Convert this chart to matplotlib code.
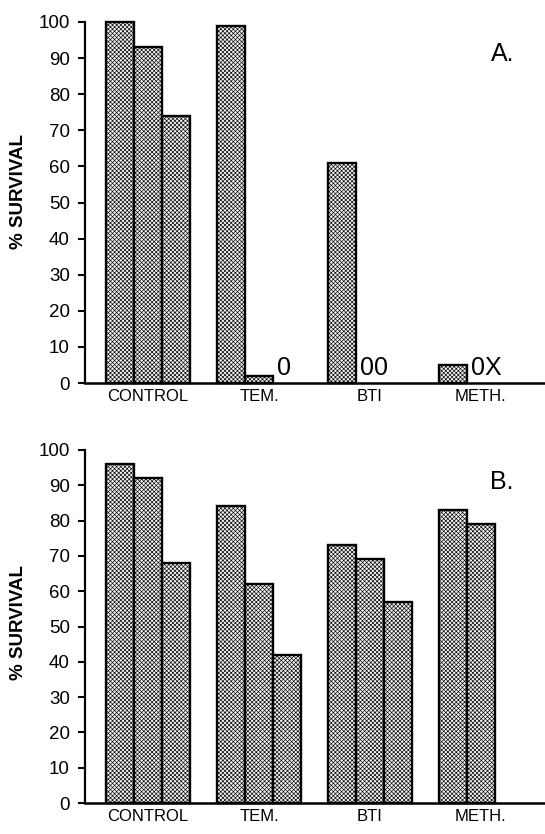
import numpy as np
import matplotlib
matplotlib.use('Agg')
import matplotlib.pyplot as plt

plt.rcParams['font.family'] = ['Liberation Sans', 'DejaVu Sans']
plt.rcParams['hatch.linewidth'] = 0.45

groups = ['CONTROL', 'TEM.', 'BTI', 'METH.']
# three slots per group, nan = no bar drawn
survivalA = [[100, 93, 74], [99, 2, np.nan], [61, np.nan, np.nan], [5, np.nan, np.nan]]
survivalB = [[96, 92, 68], [84, 62, 42], [73, 69, 57], [83, 79, np.nan]]
# text written next to the bars in panel A: (group, slot, text)
notesA = [(1, 2, '0'), (2, 1, '00'), (3, 1, '0X')]
yticks = list(range(0, 101, 10))

W = 545 / 100
H = 834 / 100
barw = 0.252
xlim = (-0.57, 3.58)


def slotX(g, s):
 return g + (s - 1) * barw


def drawPanel(ax, values, letter, labelY, notes=None):
 for g, vals in enumerate(values):
  for s, v in enumerate(vals):
   if np.isnan(v):
    continue
   ax.bar(slotX(g, s), v, width=barw, facecolor='#f2f2f2', edgecolor='black',
          hatch='xxxxxxxx', linewidth=1.7, clip_on=False, zorder=2)
 if notes:
  for g, s, txt in notes:
   ax.text(slotX(g, s) - barw / 2 + 0.035, 0.8, txt, fontsize=18, ha='left', va='bottom')
 ax.set_xlim(*xlim)
 ax.set_ylim(0, 100)
 ax.set_yticks(yticks)
 ax.set_xticks(range(len(groups)))
 ax.set_xticklabels(groups, fontsize=12)
 ax.tick_params(axis='x', length=0, pad=4)
 ax.tick_params(axis='y', length=5, width=1.5, pad=6, labelsize=13.5, direction='out')
 for side in ['top', 'right']:
  ax.spines[side].set_visible(False)
 ax.spines['left'].set_linewidth(1.6)
 ax.spines['bottom'].set_linewidth(1.8)
 ax.set_ylabel('% SURVIVAL', fontsize=13.5, fontweight='bold')
 ax.yaxis.set_label_coords(-0.126, labelY)
 ax.text(0.907, 0.91, letter, transform=ax.transAxes, fontsize=18, ha='center', va='center')


fig = plt.figure(figsize=(W, H), dpi=100)
axA = fig.add_axes([85 / 545, 1 - 383 / 834, 460 / 545, (383 - 22) / 834])
axB = fig.add_axes([85 / 545, 1 - 803 / 834, 460 / 545, (803 - 450) / 834])
drawPanel(axA, survivalA, 'A.', 0.53, notesA)
drawPanel(axB, survivalB, 'B.', 0.51)

fig.savefig('out.png', dpi=100)
